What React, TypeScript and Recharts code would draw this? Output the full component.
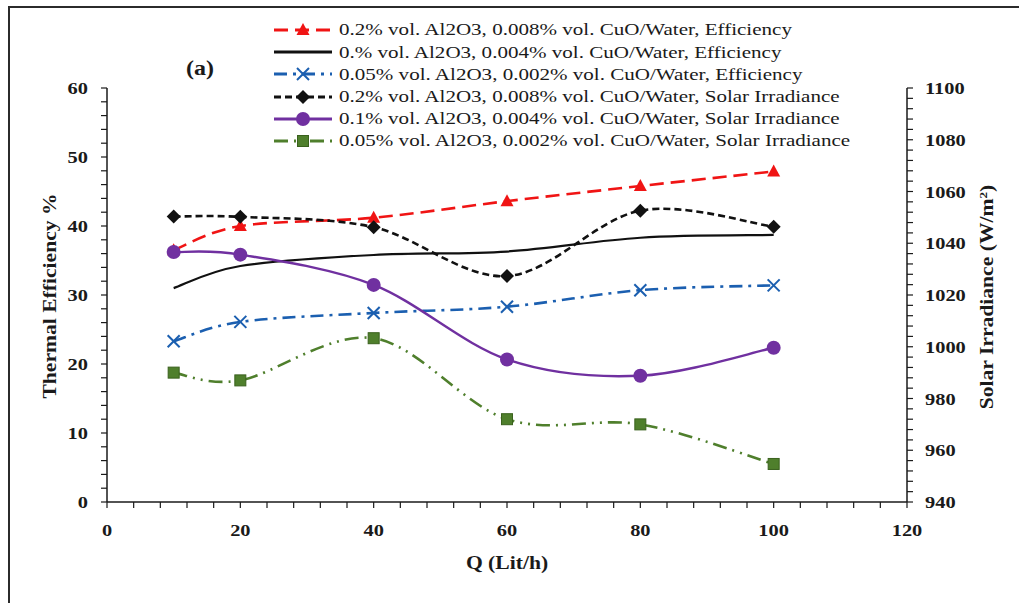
import React from "react";
import { Line, LineChart, XAxis, YAxis } from "recharts";

const SERIF = '"Liberation Serif", "Times New Roman", serif';
const INK = "#1a1a1a";

// Flow rate (Lit/h) where each run was measured
const flowRates = [10, 20, 40, 60, 80, 100];

// Thermal efficiency (%) – left axis
const effAl02Cu008 = [36.5, 40.0, 41.2, 43.6, 45.8, 47.9];
const effAl0Cu004 = [31.0, 34.2, 35.8, 36.3, 38.3, 38.7];
const effAl005Cu002 = [23.3, 26.1, 27.4, 28.3, 30.7, 31.4];

// Solar irradiance (W/m²) – right axis
const irrAl02Cu008 = [1050.3, 1050.2, 1046.2, 1027.3, 1052.6, 1046.4];
const irrAl01Cu004 = [1036.6, 1035.6, 1023.9, 995.1, 988.8, 999.6];
const irrAl005Cu002 = [990.0, 987.0, 1003.3, 972.0, 970.0, 954.7];

const seriesNames = [
  "0.2% vol. Al2O3, 0.008% vol. CuO/Water, Efficiency",
  "0.% vol. Al2O3, 0.004% vol. CuO/Water, Efficiency",
  "0.05% vol. Al2O3, 0.002% vol. CuO/Water, Efficiency",
  "0.2% vol. Al2O3, 0.008% vol. CuO/Water, Solar Irradiance",
  "0.1% vol. Al2O3, 0.004% vol. CuO/Water, Solar Irradiance",
  "0.05% vol. Al2O3, 0.002% vol. CuO/Water, Solar Irradiance",
];

// Minor tick positions; only some of them get a label
const flowTicks = Array.from({ length: 31 }, (_, i) => i * 4);
const effTicks = Array.from({ length: 31 }, (_, i) => i * 2);
const irrTicks = Array.from({ length: 41 }, (_, i) => 940 + i * 4);

const data = flowRates.map((q, i) => ({
  q,
  e1: effAl02Cu008[i],
  e2: effAl0Cu004[i],
  e3: effAl005Cu002[i],
  s1: irrAl02Cu008[i],
  s2: irrAl01Cu004[i],
  s3: irrAl005Cu002[i],
}));

type MarkerKind = "triangle" | "none" | "cross" | "diamond" | "circle" | "square";

type SeriesSpec = {
  key: string;
  axis: "eff" | "irr";
  color: string;
  dash?: string;
  width: number;
  marker: MarkerKind;
};

const series: SeriesSpec[] = [
  { key: "e1", axis: "eff", color: "#f01414", dash: "14 7", width: 2.6, marker: "triangle" },
  { key: "e2", axis: "eff", color: "#111111", width: 2.2, marker: "none" },
  { key: "e3", axis: "eff", color: "#1b5fb0", dash: "13 6 3 6", width: 2.6, marker: "cross" },
  { key: "s1", axis: "irr", color: "#111111", dash: "7 4", width: 2.6, marker: "diamond" },
  { key: "s2", axis: "irr", color: "#7030a0", width: 2.4, marker: "circle" },
  { key: "s3", axis: "irr", color: "#4f7f2c", dash: "14 6 2 6 2 6", width: 2.6, marker: "square" },
];

// Smoothed line like the spreadsheet's "smoothed line" option (Catmull-Rom through the points)
const smoothCurve = (context: any) => {
  let pts: number[][] = [];
  return {
    areaStart() {},
    areaEnd() {},
    lineStart() {
      pts = [];
    },
    point(x: number, y: number) {
      pts.push([+x, +y]);
    },
    lineEnd() {
      const n = pts.length;
      if (!n) return;
      context.moveTo(pts[0][0], pts[0][1]);
      for (let i = 0; i < n - 1; i++) {
        const p0 = pts[Math.max(i - 1, 0)];
        const p1 = pts[i];
        const p2 = pts[i + 1];
        const p3 = pts[Math.min(i + 2, n - 1)];
        context.bezierCurveTo(
          p1[0] + (p2[0] - p0[0]) / 6,
          p1[1] + (p2[1] - p0[1]) / 6,
          p2[0] - (p3[0] - p1[0]) / 6,
          p2[1] - (p3[1] - p1[1]) / 6,
          p2[0],
          p2[1]
        );
      }
    },
  };
};

function Marker({ kind, cx, cy, color }: { kind: MarkerKind; cx: number; cy: number; color: string }) {
  switch (kind) {
    case "triangle":
      return <polygon points={`${cx},${cy - 7} ${cx + 6.5},${cy + 5} ${cx - 6.5},${cy + 5}`} fill={color} />;
    case "cross":
      return (
        <g stroke={color} strokeWidth={2}>
          <line x1={cx - 6} y1={cy - 6} x2={cx + 6} y2={cy + 6} />
          <line x1={cx - 6} y1={cy + 6} x2={cx + 6} y2={cy - 6} />
        </g>
      );
    case "diamond":
      return <polygon points={`${cx},${cy - 7} ${cx + 7},${cy} ${cx},${cy + 7} ${cx - 7},${cy}`} fill={color} />;
    case "circle":
      return <circle cx={cx} cy={cy} r={7} fill={color} />;
    case "square":
      return <rect x={cx - 5.5} y={cy - 5.5} width={11} height={11} fill={color} stroke="#3a611d" strokeWidth={1} />;
    default:
      return null;
  }
}

function FlowTick({ x, y, payload }: any) {
  if (payload.value % 20 !== 0) return <g />;
  return (
    <text
      transform={`translate(${x},${y + 26}) scale(1.2,1)`}
      textAnchor="middle"
      fontFamily={SERIF}
      fontWeight="bold"
      fontSize={17}
      fill={INK}
    >
      {payload.value}
    </text>
  );
}

function EffTick({ x, y, payload }: any) {
  if (payload.value % 10 !== 0) return <g />;
  return (
    <text
      transform={`translate(${x - 11},${y + 6}) scale(1.2,1)`}
      textAnchor="end"
      fontFamily={SERIF}
      fontWeight="bold"
      fontSize={17}
      fill={INK}
    >
      {payload.value}
    </text>
  );
}

function IrrTick({ x, y, payload }: any) {
  if (payload.value % 20 !== 0) return <g />;
  return (
    <text
      transform={`translate(${x + 10},${y + 6}) scale(1.2,1)`}
      textAnchor="start"
      fontFamily={SERIF}
      fontWeight="bold"
      fontSize={17}
      fill={INK}
    >
      {payload.value}
    </text>
  );
}

function LegendIcon({ spec }: { spec: SeriesSpec }) {
  return (
    <svg width={60} height={16} style={{ display: "block", flex: "none" }}>
      <line
        x1={1}
        y1={8}
        x2={59}
        y2={8}
        stroke={spec.color}
        strokeWidth={spec.width + 0.6}
        strokeDasharray={spec.dash}
      />
      <Marker kind={spec.marker} cx={30} cy={8} color={spec.color} />
    </svg>
  );
}

function AxisTitle({ text, cx, cy, rotate }: { text: React.ReactNode; cx: number; cy: number; rotate?: boolean }) {
  return (
    <div
      style={{
        position: "absolute",
        left: cx,
        top: cy,
        transform: `translate(-50%, -50%)${rotate ? " rotate(-90deg)" : ""} scaleX(1.2)`,
        whiteSpace: "nowrap",
        fontFamily: SERIF,
        fontWeight: "bold",
        fontSize: 18,
        lineHeight: 1,
        color: INK,
      }}
    >
      {text}
    </div>
  );
}

export default function App() {
  return (
    <div
      style={{
        position: "absolute",
        left: 0,
        top: 0,
        width: 1019,
        height: 603,
        overflow: "hidden",
        background: "#fff",
      }}
    >
      <div
        style={{
          position: "absolute",
          left: 8,
          top: 6,
          width: 1030,
          height: 620,
          borderLeft: "2px solid #2b2b2b",
          borderTop: "2px solid #2b2b2b",
        }}
      />
      <LineChart width={1019} height={603} data={data} margin={{ top: 88, right: 35, bottom: 41, left: 30 }}>
        <XAxis
          dataKey="q"
          type="number"
          domain={[0, 120]}
          ticks={flowTicks}
          interval={0}
          height={60}
          tickSize={6}
          tick={FlowTick}
          axisLine={{ stroke: INK, strokeWidth: 1.5 }}
          tickLine={{ stroke: INK, strokeWidth: 1.2 }}
        />
        <YAxis
          yAxisId="eff"
          domain={[0, 60]}
          ticks={effTicks}
          interval={0}
          width={77}
          tickSize={6}
          tick={EffTick}
          axisLine={{ stroke: INK, strokeWidth: 1.5 }}
          tickLine={{ stroke: INK, strokeWidth: 1.2 }}
        />
        <YAxis
          yAxisId="irr"
          orientation="right"
          domain={[940, 1100]}
          ticks={irrTicks}
          interval={0}
          width={77}
          tickSize={6}
          tick={IrrTick}
          axisLine={{ stroke: INK, strokeWidth: 1.5 }}
          tickLine={{ stroke: INK, strokeWidth: 1.2 }}
        />
        {series.map((s) => (
          <Line
            key={s.key}
            dataKey={s.key}
            yAxisId={s.axis}
            type={smoothCurve as any}
            stroke={s.color}
            strokeWidth={s.width}
            strokeDasharray={s.dash}
            dot={(p: any) => <Marker key={`${s.key}-${p.index}`} kind={s.marker} cx={p.cx} cy={p.cy} color={s.color} />}
            activeDot={false}
            isAnimationActive={false}
          />
        ))}
      </LineChart>

      <AxisTitle text="Thermal Efficiency %" cx={50} cy={296} rotate />
      <AxisTitle
        text={
          <>
            Solar Irradiance (W/m<sup style={{ fontSize: 11, verticalAlign: "6px" }}>2</sup>)
          </>
        }
        cx={987}
        cy={297}
        rotate
      />
      <AxisTitle text="Q (Lit/h)" cx={507} cy={563} />

      <div
        style={{
          position: "absolute",
          left: 186,
          top: 58,
          transform: "scaleX(1.2)",
          transformOrigin: "left top",
          fontFamily: SERIF,
          fontWeight: "bold",
          fontSize: 20,
          lineHeight: 1,
          color: INK,
        }}
      >
        (a)
      </div>

      <div style={{ position: "absolute", left: 273, top: 19 }}>
        {series.map((s, i) => (
          <div key={s.key} style={{ display: "flex", alignItems: "center", height: 22.2 }}>
            <LegendIcon spec={s} />
            <span
              style={{
                marginLeft: 6,
                fontFamily: SERIF,
                fontSize: 17.4,
                lineHeight: 1,
                color: INK,
                whiteSpace: "nowrap",
                transform: "scaleX(1.21)",
                transformOrigin: "left center",
                display: "inline-block",
              }}
            >
              {seriesNames[i]}
            </span>
          </div>
        ))}
      </div>
    </div>
  );
}
